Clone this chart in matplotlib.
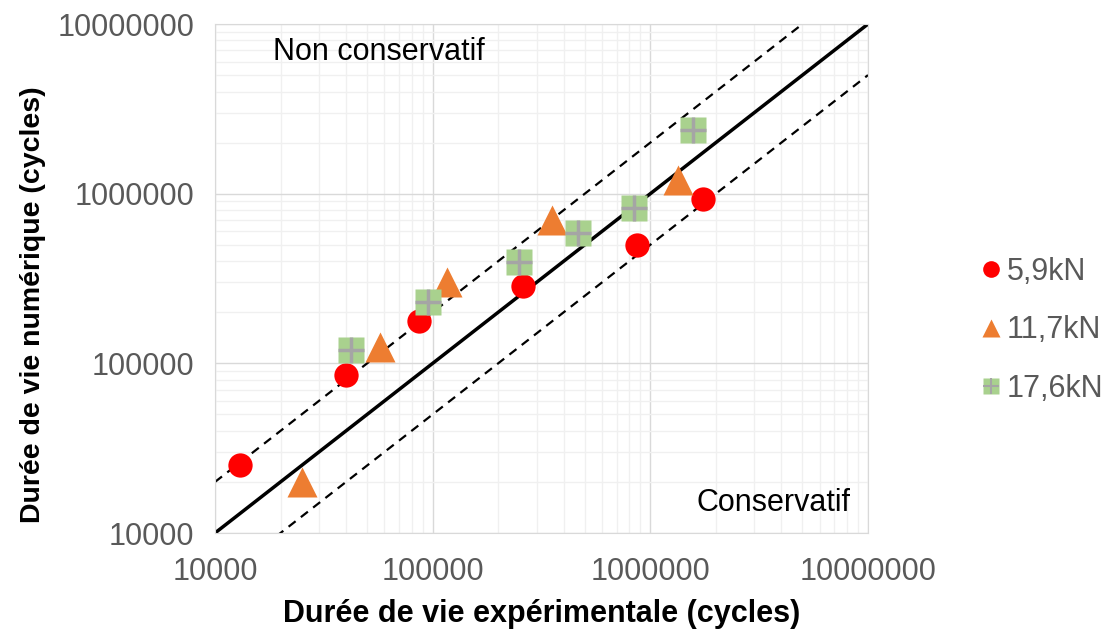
import numpy as np
import matplotlib
matplotlib.use("Agg")
import matplotlib.pyplot as plt
from matplotlib.ticker import FuncFormatter, LogLocator

# durées de vie (cycles) : expérimentale / numérique
exp_59 = [13000, 40000, 87000, 260000, 870000, 1750000]
num_59 = [25000, 85000, 178000, 285000, 500000, 930000]

exp_117 = [25000, 57000, 117000, 355000, 1340000]
num_117 = [20000, 125000, 300000, 700000, 1200000]

exp_176 = [42000, 95000, 250000, 465000, 840000, 1570000]
num_176 = [120000, 230000, 395000, 585000, 820000, 2370000]

labels = ["5,9kN", "11,7kN", "17,6kN"]

plt.rcParams['font.family'] = ['Liberation Sans', 'DejaVu Sans']

fig = plt.figure(figsize=(11.07, 6.29), dpi=100)
ax = fig.add_axes([0.1942, 0.1526, 0.5899, 0.8092])
ax.set_xscale('log')
ax.set_yscale('log')
ax.set_xlim(1e4, 1e7)
ax.set_ylim(1e4, 1e7)

ax.xaxis.set_minor_locator(LogLocator(base=10, subs=np.arange(2, 10)))
ax.yaxis.set_minor_locator(LogLocator(base=10, subs=np.arange(2, 10)))
ax.grid(True, which='major', color='#d9d9d9', lw=1)
ax.grid(True, which='minor', color='#f0f0f0', lw=1)
ax.set_axisbelow(True)

# droites y = x, y = 2x, y = x/2
xl = np.array([1e4, 1e7])
ax.plot(xl, xl, color='black', lw=2.5, zorder=2)
ax.plot(xl, 2 * xl, color='black', lw=1.6, ls=(0, (4, 3)), zorder=2)
ax.plot(xl, xl / 2, color='black', lw=1.6, ls=(0, (4, 3)), zorder=2)

h1, = ax.plot(exp_59, num_59, 'o', color='#ff0000', ms=17.5, mec='none', zorder=3)
h2, = ax.plot(exp_117, num_117, '^', color='#ed7d31', ms=21, mec='none', zorder=3)
h3a, = ax.plot(exp_176, num_176, 's', color='#a9d18e', ms=18.5, mec='none', zorder=3)
h3b, = ax.plot(exp_176, num_176, '+', color='#a5a5a5', ms=18.5, mew=2.5, zorder=4)

ax.text(1.85e4, 6.8e6, "Non conservatif", fontsize=22, color='black', va='center')
ax.text(8.3e6, 1.5e4, "Conservatif", fontsize=22, color='black', va='center', ha='right')

fmt = FuncFormatter(lambda v, p: "%d" % v)
ax.xaxis.set_major_formatter(fmt)
ax.yaxis.set_major_formatter(fmt)
ax.tick_params(which='both', length=0, labelsize=22, colors='#595959')
ax.tick_params(axis='x', pad=17)
ax.tick_params(axis='y', pad=15)
ax.set_xlabel("Durée de vie expérimentale (cycles)", fontsize=22, fontweight='bold', labelpad=9)
ax.set_ylabel("Durée de vie numérique (cycles)", fontsize=20.5, fontweight='bold')
ax.yaxis.set_label_coords(-0.259, 0.448)

for s in ax.spines.values():
    s.set_color('#d9d9d9')

# marqueurs de légende plus petits
l1, = plt.plot([], [], 'o', color='#ff0000', ms=12, mec='none')
l2, = plt.plot([], [], '^', color='#ed7d31', ms=13, mec='none')
l3a, = plt.plot([], [], 's', color='#a9d18e', ms=12, mec='none')
l3b, = plt.plot([], [], '+', color='#a5a5a5', ms=12, mew=1.5)
leg = fig.legend([l1, l2, (l3a, l3b)], labels, loc='center left',
                 bbox_to_anchor=(0.8625, 0.475), frameon=False, fontsize=22,
                 handlelength=0.6, handletextpad=0.2, labelspacing=0.93)
for t in leg.get_texts():
    t.set_color('#595959')

fig.savefig("out.png", dpi=100)
